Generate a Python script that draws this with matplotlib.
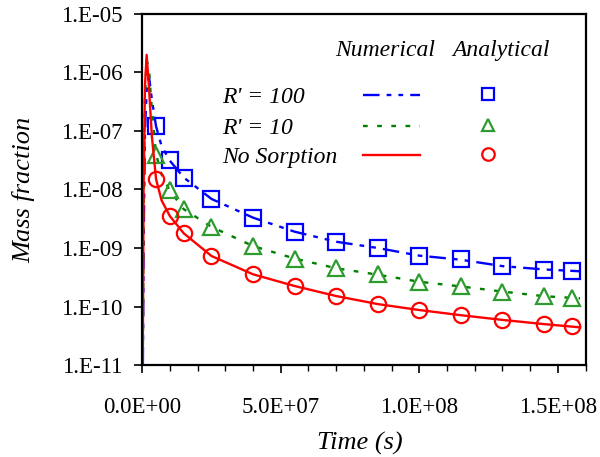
import numpy as np
import matplotlib
matplotlib.use("Agg")
import matplotlib.pyplot as plt
from matplotlib.ticker import FuncFormatter, MultipleLocator

plt.rcParams['font.family'] = ['Liberation Serif', 'DejaVu Serif']

# analytical points (markers)
t_ana = [5e6, 1e7, 1.5e7, 2.5e7, 4e7, 5.5e7, 7e7, 8.5e7, 1e8, 1.15e8, 1.3e8, 1.45e8, 1.55e8]
ana_r100 = [1.23e-7, 3.2e-8, 1.6e-8, 6.9e-9, 3.3e-9, 1.9e-9, 1.28e-9, 1.01e-9, 7.4e-10, 6.4e-10, 4.9e-10, 4.2e-10, 4.1e-10]
ana_r10 = [3.9e-8, 9.8e-9, 4.6e-9, 2.3e-9, 1.08e-9, 6.6e-10, 4.5e-10, 3.55e-10, 2.65e-10, 2.24e-10, 1.79e-10, 1.53e-10, 1.40e-10]
ana_nosorp = [1.49e-8, 3.5e-9, 1.78e-9, 7.3e-10, 3.55e-10, 2.24e-10, 1.51e-10, 1.10e-10, 8.7e-11, 7.1e-11, 5.9e-11, 5.0e-11, 4.65e-11]

# numerical curves
t_num = [0, 5e5, 1e6, 1.6e6, 2.4e6, 3.5e6, 5e6, 7e6, 1e7, 1.5e7, 2.5e7, 4e7, 5.5e7, 7e7, 8.5e7, 1e8, 1.15e8, 1.3e8, 1.45e8, 1.58e8]
num_r100 = [1e-13, 1e-9, 1e-7, 5e-7, 9e-7, 3.4e-7, 1.2e-7, 5.5e-8, 3.1e-8, 1.6e-8, 6.9e-9, 3.3e-9, 1.9e-9, 1.28e-9, 1.0e-9, 7.4e-10, 6.3e-10, 4.9e-10, 4.3e-10, 4.0e-10]
num_r10 = [1e-13, 5e-9, 4e-7, 1.6e-6, 1.2e-6, 2.3e-7, 4e-8, 1.8e-8, 9.5e-9, 4.6e-9, 2.3e-9, 1.08e-9, 6.6e-10, 4.5e-10, 3.5e-10, 2.65e-10, 2.2e-10, 1.8e-10, 1.5e-10, 1.38e-10]
num_nosorp = [1e-13, 1e-8, 6e-7, 2e-6, 6e-7, 8e-8, 1.5e-8, 6.5e-9, 3.5e-9, 1.78e-9, 7.3e-10, 3.55e-10, 2.24e-10, 1.51e-10, 1.10e-10, 8.7e-11, 7.1e-11, 5.9e-11, 5.0e-11, 4.4e-11]

labels = ["R' = 100", "R' = 10", "No Sorption"]
colors = ['#0000ff', '#2e9b2e', '#ff0000']
line_colors = ['#0000ff', '#008000', '#ff0000']
markers = ['s', '^', 'o']

fig = plt.figure(figsize=(6, 4.57), dpi=100)
ax = fig.add_axes([0.237, 0.2013, 0.739, 0.7681])

dash_styles = [(0, (7, 3, 2, 3, 2, 3)), (0, (2, 4)), '-']
nums = [num_r100, num_r10, num_nosorp]
anas = [ana_r100, ana_r10, ana_nosorp]

for i in range(3):
    ax.plot(t_num, nums[i], color=line_colors[i], lw=1.7, linestyle=dash_styles[i])
    ax.plot(t_ana, anas[i], linestyle='none', marker=markers[i], ms=11 if i != 1 else 12,
            mfc='none', mec=colors[i], mew=1.6)

ax.set_yscale('log')
ax.set_ylim(1e-11, 1e-5)
ax.set_xlim(0, 1.6e8)

ax.xaxis.set_major_locator(MultipleLocator(5e7))
ax.xaxis.set_minor_locator(MultipleLocator(1e7))
ax.yaxis.set_minor_locator(matplotlib.ticker.NullLocator())

ax.xaxis.set_major_formatter(FuncFormatter(lambda v, p: '%.1E' % v))
ax.yaxis.set_major_formatter(FuncFormatter(lambda v, p: '1.E%+03d' % int(round(np.log10(v)))))

ax.tick_params(axis='both', which='major', direction='out', length=6, width=1.2, labelsize=16.5)
ax.tick_params(axis='y', which='major', pad=8)
ax.tick_params(axis='x', which='major', pad=17)
ax.tick_params(axis='x', which='minor', direction='out', length=4, width=1.0)
ax.tick_params(top=False, right=False)
for s in ax.spines.values():
    s.set_linewidth(1.6)

ax.set_xlabel('Time (s)', fontsize=19, style='italic')
ax.set_ylabel('Mass fraction', fontsize=19, style='italic')
ax.xaxis.set_label_coords(0.49, -0.19)
ax.yaxis.set_label_coords(-0.242, 0.5)

# legend drawn by hand
ax.text(0.435, 0.897, 'Numerical', transform=ax.transAxes, fontsize=17, style='italic', va='center')
ax.text(0.70, 0.897, 'Analytical', transform=ax.transAxes, fontsize=17, style='italic', va='center')
ys = [0.761, 0.675, 0.590]
for i in range(3):
    ax.text(0.18, ys[i], labels[i], transform=ax.transAxes, fontsize=17, style='italic', va='center')
    ax.plot([0.498, 0.626], [ys[i] + 0.007, ys[i] + 0.007], transform=ax.transAxes,
            color=line_colors[i], lw=1.7, linestyle=dash_styles[i])
    ax.plot([0.78], [ys[i] + 0.01], transform=ax.transAxes, marker=markers[i], ms=9,
            mfc='none', mec=colors[i], mew=1.6, linestyle='none')

fig.savefig('out.png', dpi=100)
